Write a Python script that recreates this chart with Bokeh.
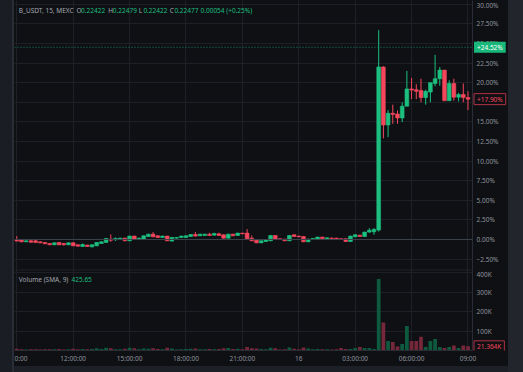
from bokeh.plotting import figure
from bokeh.layouts import column, row
from bokeh.models import ColumnDataSource, FixedTicker, Span, Label, Range1d, Spacer
from bokeh.embed import file_html
from bokeh.resources import INLINE

# ---------------- data (percent change vs. first bar, 15-minute candles) ----------------
OPEN = [0.00, -0.04, -0.30, -0.17, -0.17, -0.30, -0.38, -0.51, -0.68, -0.38,
        -0.51, -0.68, -0.43, -0.68, -0.89, -0.72, -0.94, -0.81, -0.51, -0.38,
        0.04, -0.04, 0.00, 0.17, -0.17, 0.43, 0.00, 0.00, 0.38, 0.68,
        0.47, 0.26, 0.43, -0.21, 0.17, 0.26, 0.26, 0.38, 0.64, 0.47,
        0.51, 0.68, 0.55, 0.72, 0.60, 0.17, 0.68, 0.51, 0.81, 0.81,
        0.17, -0.09, -0.43, -0.26, -0.17, 0.51, 0.09, 0.04, -0.17, 0.60,
        0.43, 0.38, -0.30, 0.00, 0.04, 0.30, 0.09, 0.17, 0.17, 0.09,
        0.09, -0.26, 0.34, 0.55, 0.38, 0.94, 0.98,
        1.20, 22.00, 14.60, 16.10, 16.00, 15.50, 17.00, 19.20, 19.10, 19.00,
        18.10, 18.80, 19.90, 20.50, 21.60, 17.70, 19.90, 18.15, 18.50, 18.10]
HIGH = [0.43, 0.00, -0.13, -0.04, 0.04, -0.26, -0.34, -0.47, -0.38, -0.34,
        -0.43, -0.38, -0.38, -0.64, -0.51, -0.68, -0.64, -0.34, -0.26, 0.17,
        0.64, 0.26, 0.21, 0.21, 0.47, 0.47, 0.21, 0.51, 0.72, 0.94,
        0.51, 0.47, 0.47, 0.30, 0.30, 0.47, 0.51, 0.68, 0.94, 0.72,
        0.72, 0.85, 0.85, 0.85, 0.64, 0.72, 0.72, 0.85, 0.85, 1.32,
        0.51, -0.04, -0.13, 0.04, 0.55, 0.55, 0.13, 0.09, 0.55, 0.64,
        0.47, 0.43, 0.09, 0.17, 0.34, 0.34, 0.26, 0.26, 0.21, 0.13,
        0.13, 0.47, 0.64, 0.60, 0.98, 1.45, 1.45,
        26.70, 22.10, 16.50, 17.20, 16.45, 17.50, 21.50, 20.60, 19.80, 20.50,
        19.10, 20.00, 23.55, 22.00, 21.60, 20.30, 20.50, 18.70, 19.90, 18.90]
LOW = [-0.25, -0.34, -0.34, -0.43, -0.42, -0.47, -0.60, -0.72, -0.72, -0.72,
       -0.77, -0.72, -0.85, -0.89, -0.94, -0.94, -1.02, -0.85, -0.55, -0.43,
       -0.30, -0.17, -0.04, -0.21, -0.21, -0.04, -0.04, -0.04, 0.34, 0.30,
       0.21, 0.21, -0.21, -0.26, 0.13, 0.21, 0.21, 0.34, 0.38, 0.43,
       0.47, 0.47, 0.51, 0.47, 0.13, 0.13, 0.43, 0.47, 0.68, 0.04,
       -0.21, -0.47, -0.47, -0.30, -0.21, -0.04, -0.04, -0.21, -0.21, 0.34,
       0.30, -0.34, -0.34, -0.04, 0.00, 0.04, 0.04, 0.04, 0.00, -0.04,
       -0.30, -0.30, 0.30, 0.34, 0.34, 0.85, 0.60,
       1.00, 12.90, 13.05, 14.75, 14.75, 14.96, 17.00, 17.90, 17.90, 17.50,
       17.20, 17.50, 19.55, 19.60, 17.70, 17.70, 17.70, 17.60, 17.50, 16.50]
CLOSE = [-0.21, -0.30, -0.17, -0.34, -0.38, -0.43, -0.55, -0.68, -0.43, -0.68,
         -0.68, -0.43, -0.81, -0.85, -0.64, -0.89, -0.68, -0.38, -0.30, 0.13,
         -0.09, 0.13, 0.17, -0.17, 0.43, 0.00, 0.17, 0.47, 0.68, 0.34,
         0.26, 0.43, -0.17, 0.26, 0.26, 0.43, 0.47, 0.64, 0.43, 0.68,
         0.68, 0.51, 0.77, 0.51, 0.17, 0.68, 0.47, 0.81, 0.72, 0.09,
         -0.17, -0.43, -0.17, 0.00, 0.51, 0.00, 0.00, -0.17, 0.51, 0.38,
         0.34, -0.30, 0.04, 0.13, 0.30, 0.09, 0.21, 0.09, 0.04, 0.00,
         -0.26, 0.43, 0.60, 0.38, 0.94, 1.19, 1.28,
         22.00, 14.60, 16.10, 15.95, 15.50, 17.00, 19.20, 19.05, 18.90, 18.10,
         18.90, 20.00, 20.50, 21.60, 17.70, 19.90, 18.15, 18.50, 18.10, 17.90]
VOLUME_K = [9, 7, 5, 6, 7, 5, 6, 7, 6, 8,
            5, 7, 9, 6, 8, 6, 8, 12, 8, 14,
            12, 7, 6, 9, 14, 11, 6, 10, 9, 11,
            8, 6, 14, 10, 5, 7, 8, 9, 10, 7,
            6, 8, 7, 8, 12, 13, 8, 9, 6, 18,
            12, 10, 8, 7, 14, 11, 5, 7, 15, 9,
            6, 16, 10, 6, 8, 7, 6, 5, 6, 13,
            8, 8, 13, 18, 13, 13, 8,
            367, 143, 49, 44, 20, 33, 126, 49, 49, 71,
            18, 49, 59, 18, 13, 18, 26, 13, 26, 21.364]

TIME_TICKS = [0, 12, 24, 36, 48, 60, 72, 84, 96]
TIME_LABELS = ["0:00", "12:00:00", "15:00:00", "18:00:00", "21:00:00",
               "16", "03:00:00", "06:00:00", "09:00"]
PRICE_TICKS = [-2.5, 0.0, 2.5, 5.0, 7.5, 10.0, 12.5, 15.0, 17.5, 20.0, 22.5, 25.0, 27.5, 30.0]
PRICE_LABELS = ["\u22122.50%", "0.00%", "2.50%", "5.00%", "7.50%", "10.00%", "12.50%",
                "15.00%", "17.50%", "20.00%", "22.50%", "25.00%", "27.50%", "30.00%"]
VOL_TICKS = [100, 200, 300, 400]
VOL_LABELS = ["100K", "200K", "300K", "400K"]

SYMBOL = "B_USDT, 15, MEXC"
OHLC_KEYS = ["O", "H", "L", "C"]
OHLC_VALS = ["0.22422", "0.22479", "0.22422", "0.22477"]
CHANGE_TXT = "0.00054 (+0.25%)"
HIGH_MARK = 24.52
LAST_PCT = 17.90
LAST_VOL_K = 21.364
LAST_VOL = "21.364K"
VOL_TITLE = "Volume (SMA, 9)"
VOL_SMA = "425.65"

# ---------------- styles ----------------
BG = "#0e1014"
GRID = "#1d2026"
AXIS_LINE = "#2a2d35"
TXT = "#8f939c"
UP = "#1cbf7f"
DOWN = "#f5475c"
VUP = "#0d5a3f"
VDOWN = "#74283a"
FONT = "Noto Sans"
FS = "6.5px"

X0, X1 = -0.49, 96.96
PX_PER_BAR = 4.7
FRAME_LEFT = 14
def xd(px):
    return X0 + (px - FRAME_LEFT) / PX_PER_BAR
def yd(py):
    return (239 - py) / 7.84
def vd(py):
    return (350 - py) / 0.195

idx = list(range(len(OPEN)))
up = [c >= o for o, c in zip(OPEN, CLOSE)]
src = ColumnDataSource(dict(
    x=idx, h=HIGH, l=LOW,
    top=[max(o, c) for o, c in zip(OPEN, CLOSE)],
    bot=[min(o, c) for o, c in zip(OPEN, CLOSE)],
    col=[UP if u else DOWN for u in up],
    vcol=[VUP if u else VDOWN for u in up],
    v=VOLUME_K,
))

xr = Range1d(X0, X1)

def style_axis(ax):
    ax.major_tick_line_color = None
    ax.minor_tick_line_color = None
    ax.major_tick_out = 0
    ax.major_tick_in = 0
    ax.minor_tick_out = 0
    ax.minor_tick_in = 0
    ax.axis_line_color = AXIS_LINE
    ax.major_label_text_color = TXT
    ax.major_label_text_font = FONT
    ax.major_label_text_font_size = FS

def style(fig):
    fig.background_fill_color = BG
    fig.border_fill_color = BG
    fig.outline_line_color = None
    for ax in fig.yaxis:
        style_axis(ax)
        ax.major_label_standoff = 4
    fig.xgrid.ticker = FixedTicker(ticks=TIME_TICKS)
    fig.xgrid.grid_line_color = GRID
    fig.ygrid.grid_line_color = GRID

def lab(fig, x, y, text, color, **kw):
    fig.add_layout(Label(x=x, y=y, text=text, text_color=color, text_font=FONT,
                         text_font_size=FS, text_baseline="middle", text_align="left", **kw))

# ---------------- price pane ----------------
p = figure(width=494, height=269, x_range=xr, y_range=Range1d(-3.83, 30.48),
           output_backend="svg", toolbar_location=None,
           x_axis_location=None, y_axis_location="right",
           min_border_left=0, min_border_right=36, min_border_top=0, min_border_bottom=0)
style(p)
p.yaxis.ticker = FixedTicker(ticks=PRICE_TICKS)
p.yaxis.major_label_overrides = dict(zip(PRICE_TICKS, PRICE_LABELS))
p.ygrid.ticker = FixedTicker(ticks=PRICE_TICKS)

p.add_layout(Span(location=0, dimension="width", line_color="#3c4049", line_width=1))
p.add_layout(Span(location=HIGH_MARK, dimension="width", line_color="#1a8f63",
                  line_width=1, line_dash="1 2"))

p.segment(x0="x", y0="h", x1="x", y1="l", source=src, line_color="col", line_width=1)
p.vbar(x="x", width=0.8, top="top", bottom="bot", source=src,
       fill_color="col", line_color="col", line_width=0.6)

lab(p, xd(18.3), yd(10), SYMBOL, "#a4a7b0")
for k, val, px in zip(OHLC_KEYS, OHLC_VALS, [76, 107.7, 138.3, 169.3]):
    lab(p, xd(px), yd(10), k, "#a4a7b0")
    lab(p, xd(px + 4.6), yd(10), val, UP)
lab(p, xd(200), yd(10), CHANGE_TXT, UP)

# ---------------- volume pane ----------------
v = figure(width=494, height=97, x_range=xr, y_range=Range1d(0, 415.4),
           output_backend="svg", toolbar_location=None,
           x_axis_location="below", y_axis_location="right",
           min_border_left=0, min_border_right=36, min_border_top=0, min_border_bottom=16)
style(v)
v.yaxis.ticker = FixedTicker(ticks=VOL_TICKS)
v.yaxis.major_label_overrides = dict(zip(VOL_TICKS, VOL_LABELS))
v.ygrid.ticker = FixedTicker(ticks=VOL_TICKS)
xa = v.xaxis[0]
style_axis(xa)
xa.ticker = FixedTicker(ticks=TIME_TICKS)
xa.major_label_overrides = dict(zip(TIME_TICKS, TIME_LABELS))
xa.major_label_standoff = 3

v.add_layout(Span(location=414, dimension="width", line_color="#2a2d35", line_width=1))
v.vbar(x="x", width=0.8, top="v", bottom=0, source=src,
       fill_color="vcol", line_color=None)

lab(v, xd(18.3), vd(279), VOL_TITLE, "#a4a7b0")
lab(v, xd(71), vd(279), VOL_SMA, UP)

# ---------------- last-value tags on the price scale (transparent overlay) ----------------
def overlay(height, y_range, bottom):
    f = figure(width=36, height=height, x_range=Range1d(0, 36), y_range=y_range,
               output_backend="svg", toolbar_location=None,
               x_axis_location=None, y_axis_location=None,
               min_border_left=0, min_border_right=0, min_border_top=0, min_border_bottom=bottom,
               background_fill_color=None, border_fill_color=None, outline_line_color=None)
    f.xgrid.visible = False
    f.ygrid.visible = False
    return f

PAD = dict(left=3, right=3, top=1, bottom=1)
op = overlay(269, p.y_range, 0)
lab(op, 1.5, HIGH_MARK, "+%.2f%%" % HIGH_MARK, "#ffffff",
    background_fill_color="#17b87a", padding=PAD)
lab(op, 1.5, LAST_PCT, "+%.2f%%" % LAST_PCT, DOWN,
    background_fill_color=BG, border_line_color="#b23246", padding=PAD)
ov = overlay(97, v.y_range, 16)
lab(ov, 1.5, LAST_VOL_K, LAST_VOL, DOWN,
    background_fill_color=BG, border_line_color="#b23246", padding=PAD)

tags = column(op, ov, styles={"margin-left": "-36px"})
layout = row(Spacer(width=14, height=366), column(p, v), tags)

html = file_html(layout, INLINE, title="B_USDT")
css = """<style>
html, body { margin: 0; padding: 0; }
html { height: 100%; background:
  linear-gradient(#2a2d35,#2a2d35) 12px 0 / 2px 100% no-repeat,
  linear-gradient(#1b1d24,#1b1d24) 0 0 / 12px 100% no-repeat,
  linear-gradient(#22252c,#22252c) right 0 top 0 / 15px 100% no-repeat,
  linear-gradient(#1d2027,#1d2027) left 0 bottom 0 / 100% 6px no-repeat,
  #0e1014; }
body { background: transparent; overflow: hidden; }
</style></head>"""
html = html.replace("</head>", css, 1)
open("out.html", "w").write(html)
